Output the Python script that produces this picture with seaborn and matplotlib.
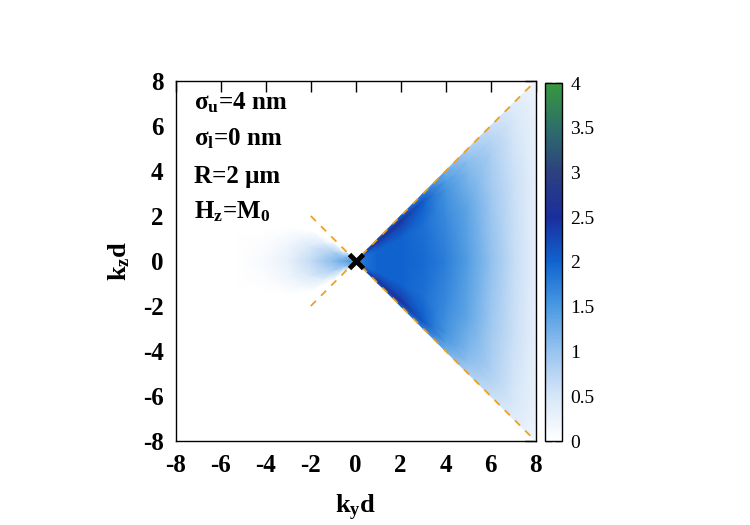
import numpy as np
import matplotlib
matplotlib.use("Agg")
import matplotlib.pyplot as plt
import seaborn as sns

# ---------------- data ----------------
# cone region (ky > 0, |kz| < ky): values at ky nodes for several t = kz/ky
cone_ky = [0, 0.5, 1, 2, 3, 4, 5, 6, 7, 8]
cone_t = [-1.0, -0.9, -0.8, -0.5, 0.0, 0.5, 0.8, 0.9, 1.0]
cone_t00 = [1.7, 1.9, 2.0, 2.0, 1.95, 1.75, 1.45, 1.05, 0.65, 0.32]
cone_t05 = [1.7, 1.9, 2.0, 2.0, 1.9, 1.65, 1.35, 0.95, 0.6, 0.3]
cone_t08 = [1.7, 2.1, 2.3, 2.3, 2.0, 1.55, 1.15, 0.85, 0.52, 0.27]
cone_t09 = [1.7, 2.4, 2.7, 2.6, 2.1, 1.45, 1.05, 0.75, 0.47, 0.24]
cone_t10 = [1.7, 2.1, 2.2, 2.0, 1.75, 1.25, 0.85, 0.6, 0.38, 0.2]

# small lobe on the ky < 0 side
blob_ky = [-5.3, -4, -3, -2, -1, -0.5, 0]
blob_hw = [1.1, 1.4, 1.5, 1.35, 0.85, 0.45, 0.0]
blob_s = [-1.0, -0.5, 0.0, 0.5, 1.0]
blob_c = [0.0, 0.1, 0.3, 0.65, 1.1, 1.35, 1.6]
blob_m = [0.0, 0.07, 0.2, 0.45, 0.8, 1.0, 1.6]
blob_e = [0.0, 0.0, 0.0, 0.0, 0.0, 0.0, 1.6]

# dashed guide lines
guide_ky = [-2, 8]
guide_up = [-2, 8]
guide_dn = [2, -8]

ticks_main = [-8, -6, -4, -2, 0, 2, 4, 6, 8]
ticks_cb = [0, 0.5, 1, 1.5, 2, 2.5, 3, 3.5, 4]
cmap_colors = ["#ffffff", "#d6e6f8", "#98c4ef", "#4a9ae2", "#1064d0",
               "#1a2e9e", "#2c4080", "#2e6e6a", "#38983e"]

annot = [r"σ$_\mathbf{u}$=4 nm", r"σ$_\mathbf{l}$=0 nm", "R=2 μm",
         r"H$_\mathbf{z}$=M$_\mathbf{0}$"]

# ---------------- style ----------------
sns.set_style("white")
plt.rcParams["font.family"] = ["Liberation Serif", "DejaVu Serif"]
plt.rcParams["mathtext.fontset"] = "custom"
plt.rcParams["mathtext.rm"] = "Liberation Serif"
plt.rcParams["mathtext.bf"] = "Liberation Serif:bold"
plt.rcParams["mathtext.it"] = "Liberation Serif:italic"
plt.rcParams["axes.unicode_minus"] = False
plt.rcParams["text.color"] = "black"
plt.rcParams["axes.labelcolor"] = "black"
plt.rcParams["xtick.color"] = "black"
plt.rcParams["ytick.color"] = "black"

cmap = sns.blend_palette(cmap_colors, as_cmap=True)

fig = plt.figure(figsize=(7.5, 5.25), dpi=100)
ax = fig.add_axes([176 / 750, 84 / 525, 359.5 / 750, 360 / 525])
cax = fig.add_axes([545 / 750, 84 / 525, 17 / 750, 358 / 525])

# cone mesh
KY = np.array(cone_ky)[None, :] * np.ones((len(cone_t), 1))
KZ = np.array(cone_t)[:, None] * np.array(cone_ky)[None, :]
CV = np.array([cone_t10, cone_t09, cone_t08, cone_t05, cone_t00,
               cone_t05, cone_t08, cone_t09, cone_t10])
m = ax.pcolormesh(KY, KZ, CV, shading="gouraud", cmap=cmap, vmin=0, vmax=4)

# lobe mesh
BY = np.array(blob_ky)[None, :] * np.ones((len(blob_s), 1))
BZ = np.array(blob_s)[:, None] * np.array(blob_hw)[None, :]
BV = np.array([blob_e, blob_m, blob_c, blob_m, blob_e])
ax.pcolormesh(BY, BZ, BV, shading="gouraud", cmap=cmap, vmin=0, vmax=4)

ax.plot(guide_ky, guide_up, color="#f0a020", lw=1.3, dashes=(4, 4))
ax.plot(guide_ky, guide_dn, color="#f0a020", lw=1.3, dashes=(4, 4))
ax.plot([0], [0], marker="x", ms=10, mew=3.5, color="black", ls="none")

ax.set_xlim(-8, 8)
ax.set_ylim(-8, 8)
ax.set_xticks(ticks_main)
ax.set_yticks(ticks_main)
ax.tick_params(direction="in", top=True, right=True, length=8, width=1,
               labelsize=18, pad=9, colors="black")
for lab in ax.get_xticklabels() + ax.get_yticklabels():
    lab.set_fontweight("bold")
for sp in ax.spines.values():
    sp.set_color("black")
    sp.set_linewidth(1)

ax.set_xlabel(r"k$_\mathbf{y}$d", fontsize=19, fontweight="bold", labelpad=12)
ax.set_ylabel(r"k$_\mathbf{z}$d", fontsize=19, fontweight="bold", labelpad=8)

ys = [0.922, 0.822, 0.717, 0.619]
for t, y in zip(annot, ys):
    ax.text(0.05, y, t, transform=ax.transAxes, fontsize=18,
            fontweight="bold", va="baseline", ha="left")

cb = fig.colorbar(m, cax=cax, ticks=ticks_cb)
cb.outline.set_edgecolor("black")
cb.outline.set_linewidth(1)
cax.tick_params(direction="in", left=True, right=True, length=5, width=1,
                labelsize=14, pad=6, colors="black")
cax.set_yticklabels([f"{v:g}" for v in ticks_cb])

fig.savefig("out.png", dpi=100)
